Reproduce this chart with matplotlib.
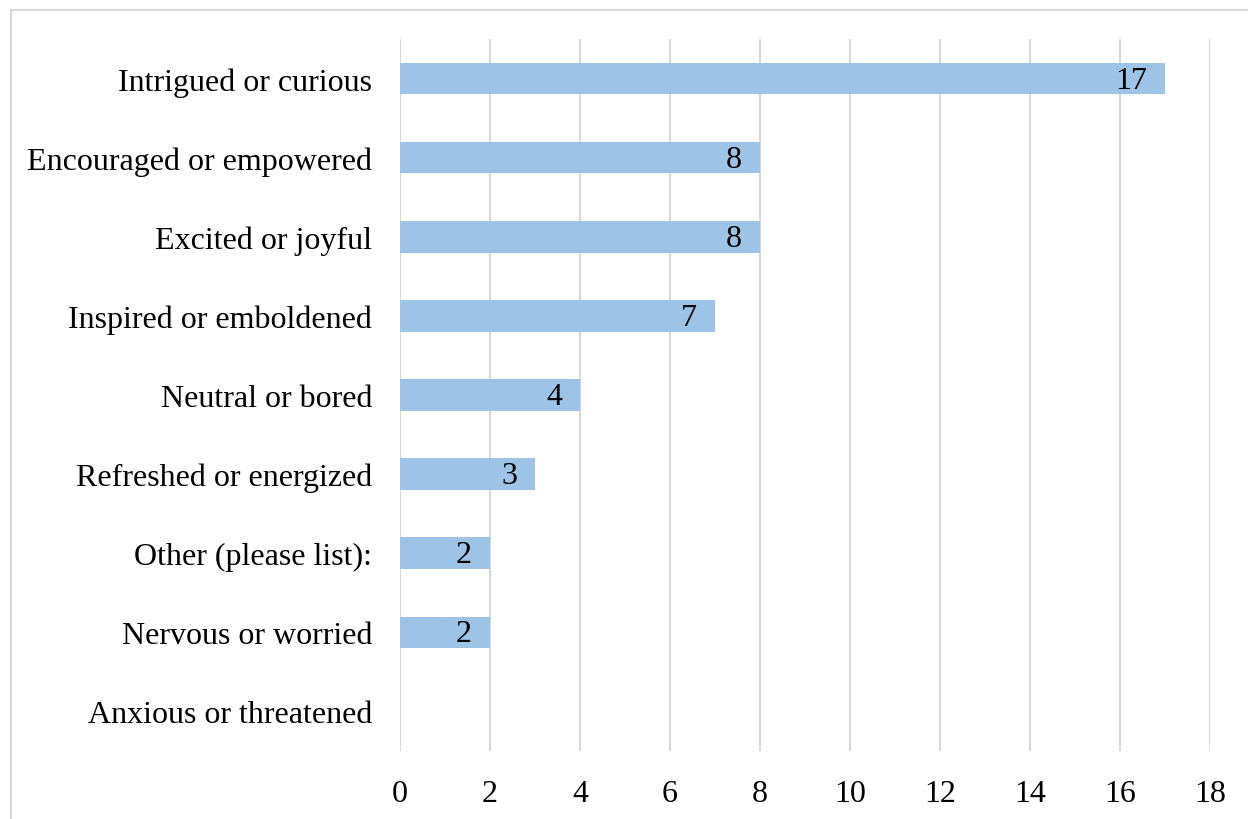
import matplotlib.pyplot as plt
from matplotlib.patches import Rectangle

# categories top to bottom
feelings = ["Intrigued or curious", "Encouraged or empowered", "Excited or joyful",
            "Inspired or emboldened", "Neutral or bored", "Refreshed or energized",
            "Other (please list):", "Nervous or worried", "Anxious or threatened"]
counts = [17, 8, 8, 7, 4, 3, 2, 2, 0]
xticks = list(range(0, 19, 2))

plt.rcParams['font.family'] = ['Liberation Serif', 'DejaVu Serif']

fig = plt.figure(figsize=(12.48, 8.2), dpi=100)
ax = fig.add_axes([400/1248, 1 - 752/820, 810/1248, 712/820])

ypos = list(range(len(feelings)))
bars = ax.barh(ypos, counts, height=0.4, color="#9DC3E6", zorder=2)

for y, v in zip(ypos, counts):
    if v > 0:
        ax.text(v - 0.4, y + 0.02, str(v), ha="right", va="center",
                fontsize=23, zorder=3)

ax.set_ylim(len(feelings) - 0.5, -0.5)
ax.set_yticks(ypos)
ax.set_yticklabels(feelings, fontsize=23)
ax.set_xlim(0, 18)
ax.set_xticks(xticks)
ax.set_xticklabels([str(t) for t in xticks], fontsize=23)
ax.tick_params(axis="y", length=0, pad=20)
ax.tick_params(axis="x", length=0, pad=20)
ax.grid(axis="x", color="#D9D9D9", linewidth=1.5, zorder=0)
for s in ax.spines.values():
    s.set_visible(False)

# outer chart border (cropped at right and bottom)
fig.patches.append(Rectangle((11/1248, -0.2), 1.5, 1 - 11/820 + 0.2,
                             transform=fig.transFigure, fill=False,
                             edgecolor="#D9D9D9", linewidth=1.5))

fig.savefig("out.png", dpi=100)
